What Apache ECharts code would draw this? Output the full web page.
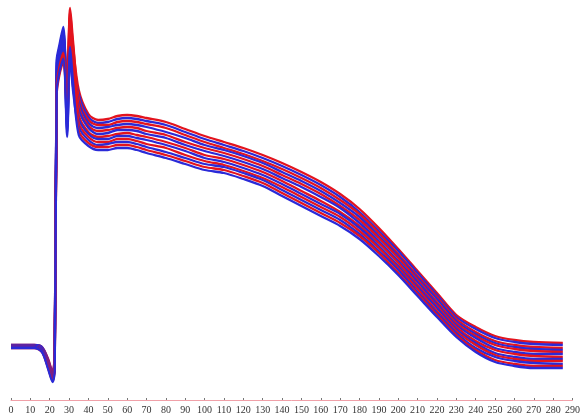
<!DOCTYPE html>
<html>
<head>
<meta charset="utf-8">
<script src="https://cdn.jsdelivr.net/npm/echarts@6/dist/echarts.min.js"></script>
<style>
html,body{margin:0;padding:0;background:#fff;}
#chart{width:583px;height:419px;}
</style>
</head>
<body>
<div id="chart"></div>
<script>
// time points (x axis units)
const times = [0,12,16,19,21.5,22.6,23.6,25,27,29,30.5,32,35,40,45,50,55,60,65,70,80,90,100,110,120,130,140,150,160,170,180,190,200,210,220,230,240,250,260,270,285];

// x-axis tick labels
const xTicks = [0,10,20,30,40,50,60,70,80,90,100,110,120,130,140,150,160,170,180,190,200,210,220,230,240,250,260,270,280,290];

// traces (arbitrary potential units)
const trace0  = [55,55,53,42,28,50,331,347,364,315,388,355,310,286,280,281,284,285,284,282,278,271,264,258,252,245,237,228,218,206,191,172,151,129,107,85,73,64,60,58,57];
const trace1  = [55,55,53,41,27,48,340,355,373,299,375,342,306,283,277,278,281,282,281,279,275,268,261,255,249,242,234,225,215,203,188,169,149,127,105,83,71,62,58,56,55];
const trace2  = [54,54,52,40,26,46,324,341,357,320,392,360,302,280,275,275,278,279,278,276,272,265,258,252,246,239,231,222,212,200,186,167,146,124,103,81,68,59,55,53,52];
const trace3  = [54,54,52,39,25,45,337,352,370,289,366,332,298,277,272,273,275,276,275,273,268,262,255,250,244,237,228,219,209,197,183,164,144,122,101,79,66,57,53,51,50];
const trace4  = [54,54,51,38,24,43,318,336,351,310,384,351,294,274,269,270,272,273,272,269,265,258,252,247,241,234,225,216,206,194,180,162,142,120,98,77,64,55,51,49,48];
const trace5  = [54,54,51,37,23,41,334,350,367,278,358,323,290,272,266,267,270,270,269,266,262,255,249,244,238,231,222,213,203,192,177,159,139,118,96,75,62,52,48,46,46];
const trace6  = [53,53,50,36,22,39,311,330,344,305,379,346,285,268,263,264,266,267,265,263,258,252,245,241,235,228,219,209,199,188,174,157,137,115,94,73,59,50,46,44,43];
const trace7  = [53,53,50,36,22,37,327,344,360,268,349,314,281,266,261,261,264,264,262,260,255,249,242,238,232,225,216,206,196,186,172,154,134,113,92,71,57,47,43,41,41];
const trace8  = [53,53,49,35,21,35,305,325,338,294,371,337,277,263,258,258,261,261,259,256,252,245,239,235,229,222,213,203,193,183,169,152,132,111,89,69,55,45,41,39,39];
const trace9  = [53,53,49,34,20,34,321,338,354,263,345,310,273,260,255,256,258,258,256,253,248,242,236,233,227,220,210,200,190,180,166,149,130,108,87,67,52,43,39,37,36];
const trace10 = [52,52,48,33,19,32,314,333,347,284,362,328,269,257,253,253,255,255,253,250,245,239,233,230,224,217,207,197,187,177,164,147,127,106,85,65,50,40,36,34,34];
const trace11 = [52,52,48,32,18,30,308,328,341,273,353,319,265,254,250,250,252,252,250,247,242,236,230,227,221,214,204,194,184,174,161,144,125,104,83,63,48,38,34,32,32];

const traces = [trace0,trace1,trace2,trace3,trace4,trace5,trace6,trace7,trace8,trace9,trace10,trace11];
const RED = '#e3141e';
const BLUE = '#2a2ad8';

const series = traces.map((vals, k) => ({
  type: 'line',
  data: times.map((t, i) => [t, vals[i]]),
  showSymbol: false,
  smooth: 0.3,
  lineStyle: { color: k % 2 === 0 ? RED : BLUE, width: 2.3 },
  z: 2
}));

const chart = echarts.init(document.getElementById('chart'), null, { renderer: 'canvas' });
chart.setOption({
  animation: false,
  backgroundColor: '#ffffff',
  grid: { left: 11, right: 7, top: 0, bottom: 19 },
  xAxis: {
    type: 'value',
    min: 0,
    max: 290,
    interval: 10,
    splitLine: { show: false },
    axisLine: { show: true, lineStyle: { color: '#f0a0a8', width: 1 } },
    axisTick: { show: true, inside: true, length: 2, lineStyle: { color: '#777' } },
    axisLabel: {
      margin: 5,
      fontFamily: 'Liberation Serif',
      fontSize: 10,
      color: '#333',
      formatter: v => (xTicks.indexOf(v) >= 0 ? String(v) : '')
    }
  },
  yAxis: {
    type: 'value',
    min: 0,
    max: 400,
    show: false,
    splitLine: { show: false }
  },
  series: series
});
</script>
</body>
</html>
